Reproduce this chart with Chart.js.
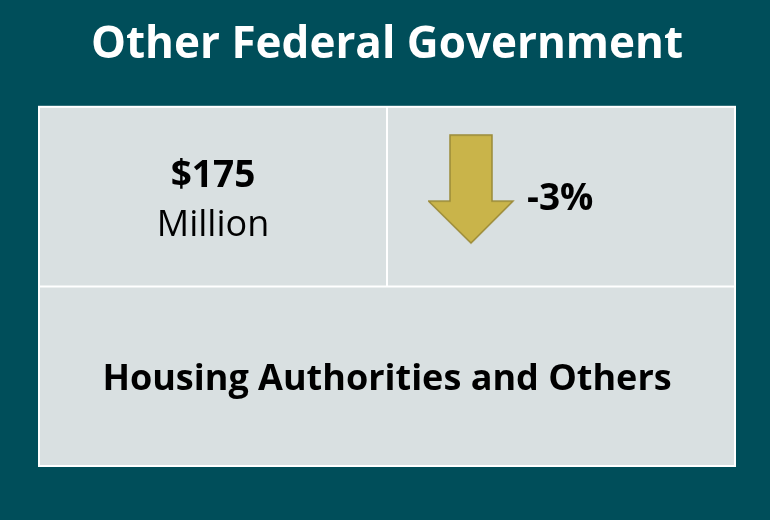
<!DOCTYPE html>
<html>
<head>
<meta charset="utf-8">
<script src="https://cdn.jsdelivr.net/npm/chart.js@4"></script>
<style>
  body { margin: 0; background: #004e5a; }
  #wrap { width: 770px; height: 520px; }
</style>
</head>
<body>
<div id="wrap"><canvas id="card" width="770" height="520"></canvas></div>
<script>
const titles = ["Other Federal Government"];
const amounts = [175];
const units = ["Million"];
const changes = [-3];
const segments = ["Housing Authorities and Others"];

const teal = "#004e5a";
const panel = "#d9e0e1";
const font = "'Open Sans', 'Noto Sans', sans-serif";

// arrow image used as the point style, arrow sits on the left of the image
function makeArrow(down) {
  const c = document.createElement("canvas");
  c.width = 266; c.height = 125;
  const g = c.getContext("2d");
  g.save();
  if (!down) { g.translate(0, 110); g.scale(1, -1); }
  g.beginPath();
  g.moveTo(22, 1); g.lineTo(64, 1); g.lineTo(64, 67); g.lineTo(85, 67);
  g.lineTo(43, 109); g.lineTo(0.5, 67); g.lineTo(22, 67); g.closePath();
  g.fillStyle = "#c9b44a";
  g.fill();
  g.lineWidth = 1.5;
  g.strokeStyle = "#9b8a38";
  g.stroke();
  g.restore();
  return c;
}

const cardPlugin = {
  id: "card",
  beforeDraw(chart) {
    const {ctx, chartArea: a, scales: {x, y}} = chart;
    ctx.save();
    ctx.fillStyle = teal;
    ctx.fillRect(0, 0, chart.width, chart.height);
    ctx.fillStyle = panel;
    ctx.fillRect(a.left, a.top, a.right - a.left, a.bottom - a.top);
    ctx.strokeStyle = "#ffffff";
    ctx.lineWidth = 2;
    ctx.strokeRect(a.left, a.top, a.right - a.left, a.bottom - a.top);
    ctx.beginPath();
    ctx.moveTo(a.left, y.getPixelForValue(1));
    ctx.lineTo(a.right, y.getPixelForValue(1));
    ctx.moveTo(x.getPixelForValue(1), a.top);
    ctx.lineTo(x.getPixelForValue(1), y.getPixelForValue(1));
    ctx.stroke();
    ctx.restore();
  },
  afterDatasetsDraw(chart) {
    const {ctx, scales: {x, y}} = chart;
    const el = chart.getDatasetMeta(0).data[0];
    ctx.save();
    ctx.fillStyle = "#000000";
    ctx.textAlign = "center";
    ctx.textBaseline = "middle";
    const cx = x.getPixelForValue(0.5), cy = y.getPixelForValue(1.5);
    ctx.font = "bold 37px " + font;
    ctx.fillText("$" + amounts[0], cx, cy - 20);
    ctx.font = "36px " + font;
    ctx.fillText(units[0], cx, cy + 29);
    ctx.font = "bold 36px " + font;
    ctx.fillText(segments[0], x.getPixelForValue(1), y.getPixelForValue(0.5) + 4);
    ctx.font = "bold 37px " + font;
    ctx.textAlign = "left";
    ctx.fillText(changes[0] + "%", el.x - 34, el.y + 3);
    ctx.restore();
  }
};

new Chart(document.getElementById("card"), {
  type: "scatter",
  data: {
    datasets: [{
      label: "change",
      data: [{x: 1.5, y: 1.5}],
      pointStyle: makeArrow(changes[0] < 0),
      pointRadius: 10
    }]
  },
  options: {
    responsive: false,
    animation: false,
    layout: {padding: {left: 39, right: 35, bottom: 54, top: 0}},
    scales: {
      x: {min: 0, max: 2, display: false},
      y: {min: 0, max: 2, display: false}
    },
    plugins: {
      legend: {display: false},
      tooltip: {enabled: false},
      title: {
        display: true,
        text: titles[0],
        color: "#ffffff",
        font: {family: font, size: 44, weight: "bold", lineHeight: 1.2},
        padding: {top: 19, bottom: 35}
      }
    }
  },
  plugins: [cardPlugin]
});
</script>
</body>
</html>
